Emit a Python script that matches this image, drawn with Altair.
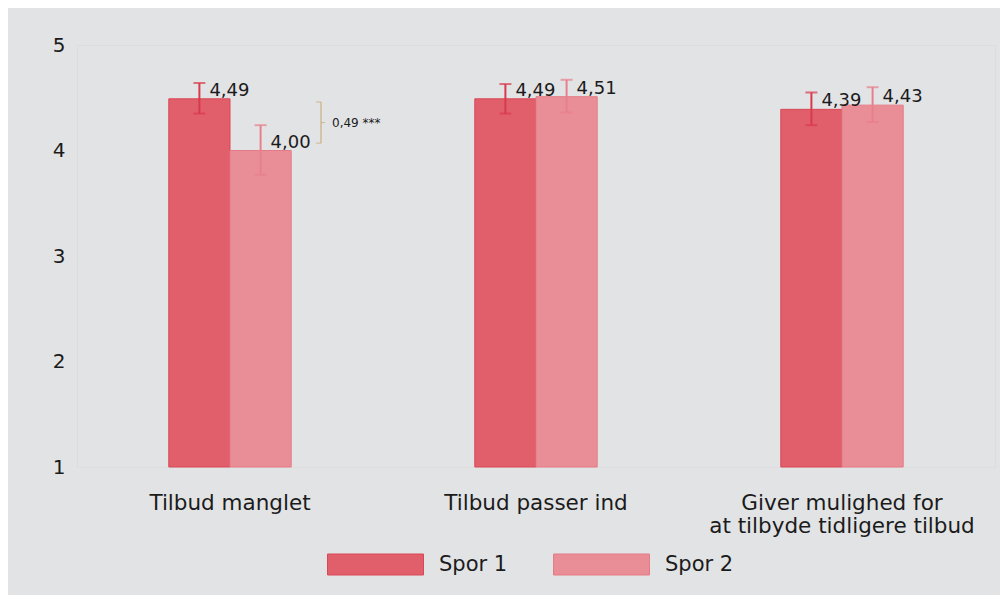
import altair as alt
import pandas as pd

categories = ["Tilbud manglet", "Tilbud passer ind", "Giver mulighed for at tilbyde tidligere tilbud"]
series = ["Spor 1", "Spor 2"]
spor1_values = [4.49, 4.49, 4.39]
spor2_values = [4.00, 4.51, 4.43]
spor1_lo = [4.35, 4.35, 4.24]
spor1_hi = [4.64, 4.63, 4.55]
spor2_lo = [3.77, 4.36, 4.27]
spor2_hi = [4.24, 4.67, 4.60]
spor1_labels = ["4,49", "4,49", "4,39"]
spor2_labels = ["4,00", "4,51", "4,43"]
y_ticks = [1, 2, 3, 4, 5]

bracket_cat = ["Tilbud manglet"]
bracket_top = [4.46]
bracket_bottom = [4.07]
bracket_mid = [4.265]
bracket_text = ["0,49 ***"]

fill_colors = ["#e15f6b", "#e98e96"]
stroke_colors = ["#d94857", "#e57b86"]
err_colors = ["#d83a4b", "#e8808b"]
bg = "#e2e3e5"
txt = "#1b1b1b"
FONT = "DejaVu Sans"

rows = []
for i, c in enumerate(categories):
    rows.append(dict(cat=c, s="Spor 1", v=spor1_values[i], lo=spor1_lo[i], hi=spor1_hi[i], lab=spor1_labels[i]))
    rows.append(dict(cat=c, s="Spor 2", v=spor2_values[i], lo=spor2_lo[i], hi=spor2_hi[i], lab=spor2_labels[i]))
df = pd.DataFrame(rows)

bdf = pd.DataFrame(dict(cat=bracket_cat, top=bracket_top, bot=bracket_bottom, mid=bracket_mid, t=bracket_text))

label_expr = ("datum.label == 'Giver mulighed for at tilbyde tidligere tilbud' ? "
              "['Giver mulighed for', 'at tilbyde tidligere tilbud'] : datum.label")

x_enc = alt.X("cat:N", sort=categories,
              scale=alt.Scale(paddingInner=0.6, paddingOuter=0.3),
              axis=alt.Axis(title=None, labelAngle=0, ticks=False, domain=False, grid=False,
                            labelFontSize=21.5, labelColor=txt, labelPadding=25, labelLimit=600,
                            labelExpr=label_expr, labelLineHeight=23, labelFont=FONT))
xo_enc = alt.XOffset("s:N", sort=series, scale=alt.Scale(paddingInner=0, paddingOuter=0))
y_scale = alt.Scale(domain=[1, 5], zero=False, nice=False)

base = alt.Chart(df)

bars = base.mark_bar(strokeWidth=1).encode(
    x=x_enc,
    xOffset=xo_enc,
    y=alt.Y("v:Q", scale=y_scale,
            axis=alt.Axis(title=None, values=y_ticks, format="d", grid=False, domain=False, ticks=False,
                          labelFontSize=20, labelColor=txt, labelPadding=12, labelFont=FONT)),
    y2=alt.datum(1),
    fill=alt.Fill("s:N", sort=series, scale=alt.Scale(domain=series, range=fill_colors),
                  legend=alt.Legend(title=None, orient="none", direction="horizontal",
                                    legendX=250, legendY=471,
                                    symbolType="M-1,-0.21875H1V0.21875H-1Z",
                                    symbolSize=9216, symbolStrokeWidth=1,
                                    labelFontSize=21, labelColor=txt, labelFont=FONT,
                                    labelOffset=15, columnPadding=43)),
    stroke=alt.Stroke("s:N", sort=series, scale=alt.Scale(domain=series, range=stroke_colors)),
)

err = base.mark_rule(strokeWidth=2).encode(
    x=alt.X("cat:N", sort=categories),
    xOffset=alt.XOffset("s:N", sort=series),
    y=alt.Y("lo:Q"),
    y2="hi:Q",
    color=alt.Color("s:N", sort=series, scale=alt.Scale(domain=series, range=err_colors), legend=None),
)
cap_hi = base.mark_tick(size=12, thickness=2).encode(
    x=alt.X("cat:N", sort=categories),
    xOffset=alt.XOffset("s:N", sort=series),
    y=alt.Y("hi:Q"),
    color=alt.Color("s:N", sort=series, legend=None),
)
cap_lo = base.mark_tick(size=12, thickness=2).encode(
    x=alt.X("cat:N", sort=categories),
    xOffset=alt.XOffset("s:N", sort=series),
    y=alt.Y("lo:Q"),
    color=alt.Color("s:N", sort=series, legend=None),
)
labels = base.mark_text(align="left", baseline="alphabetic", dx=10, dy=-3,
                        fontSize=18, color=txt, font=FONT).encode(
    x=alt.X("cat:N", sort=categories),
    xOffset=alt.XOffset("s:N", sort=series),
    y=alt.Y("v:Q"),
    text="lab:N",
)

bc = "#c6a46c"
bbase = alt.Chart(bdf)
bline = bbase.mark_rule(color=bc, strokeWidth=1, xOffset=91).encode(
    x=alt.X("cat:N", sort=categories), y="top:Q", y2="bot:Q")
btick_top = bbase.mark_tick(color=bc, size=5, thickness=1, xOffset=88.5).encode(
    x=alt.X("cat:N", sort=categories), y="top:Q")
btick_bot = bbase.mark_tick(color=bc, size=5, thickness=1, xOffset=88.5).encode(
    x=alt.X("cat:N", sort=categories), y="bot:Q")
btick_mid = bbase.mark_tick(color=bc, size=4, thickness=1, xOffset=93).encode(
    x=alt.X("cat:N", sort=categories), y="mid:Q")
btext = bbase.mark_text(align="left", baseline="middle", dx=102, fontSize=12, color=txt, font=FONT).encode(
    x=alt.X("cat:N", sort=categories), y="mid:Q", text="t:N")

chart = alt.layer(bars, err, cap_hi, cap_lo, labels, bline, btick_top, btick_bot, btick_mid, btext).properties(
    width=918, height=422,
    padding={"left": 69, "top": 37, "right": 5, "bottom": 128},
    autosize=alt.AutoSizeParams(type="none"),
    background=bg,
).configure_view(stroke=None, fill=None).configure_axis(
    grid=False, domain=False, ticks=False
).configure(font=FONT)

chart.save("out.html", embed_options={"renderer": "svg", "actions": False})
